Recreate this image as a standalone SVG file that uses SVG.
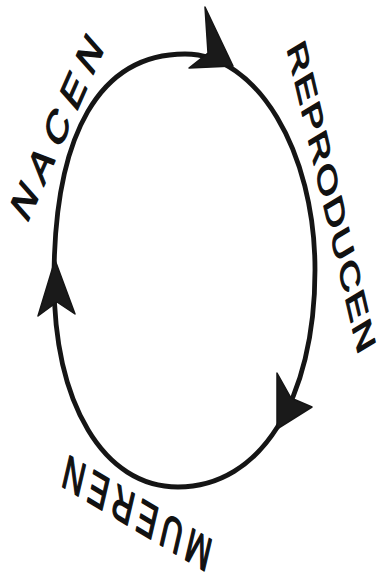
<svg xmlns="http://www.w3.org/2000/svg" width="382" height="586" viewBox="0 0 382 586">
  <style>
    .loop { fill: none; stroke: #151515; stroke-width: 4.8; stroke-linecap: round; }
    .head { fill: #1a1a1a; stroke: #151515; stroke-width: 1.5; stroke-linejoin: round; }
    .lbl { font-family: "Liberation Sans", Arial, sans-serif; fill: #111; stroke: #111; stroke-width: 1.1; stroke-linejoin: round; text-anchor: middle; dominant-baseline: central; }
  </style>
  <rect width="382" height="586" fill="#ffffff"/>
  <g id="connectors">
    <path class="loop" d="M185,54 C256.8,54 315,150.7 315,270 C315,400.2 260.2,487 178,487 C103.6,487 54,404.2 54,280 C54,133.1 99.9,54 185,54 Z"/>
    <polygon class="head" points="205,7 233,66 189,68 208,53"/>
    <polygon class="head" points="277,373 291,398 312,407 277,429"/>
    <polygon class="head" points="55,260 75,314 57,302 38,316"/>
  </g>
  <g transform="scale(1,1.6)">
    <g id="node-nacen">
      <text class="lbl" x="57" y="79.5" font-size="30" textLength="134" lengthAdjust="spacing" transform="rotate(-54.7 57 79.5)">NACEN</text>
    </g>
    <g id="node-reproducen">
      <text class="lbl" x="331.5" y="123" font-size="27" textLength="205" lengthAdjust="spacing" transform="rotate(69.5 331.5 123)">REPRODUCEN</text>
    </g>
    <g id="node-mueren">
      <text class="lbl" x="137" y="321" font-size="30" textLength="156" lengthAdjust="spacing" transform="rotate(200.4 137 321)">MUEREN</text>
    </g>
  </g>
</svg>
